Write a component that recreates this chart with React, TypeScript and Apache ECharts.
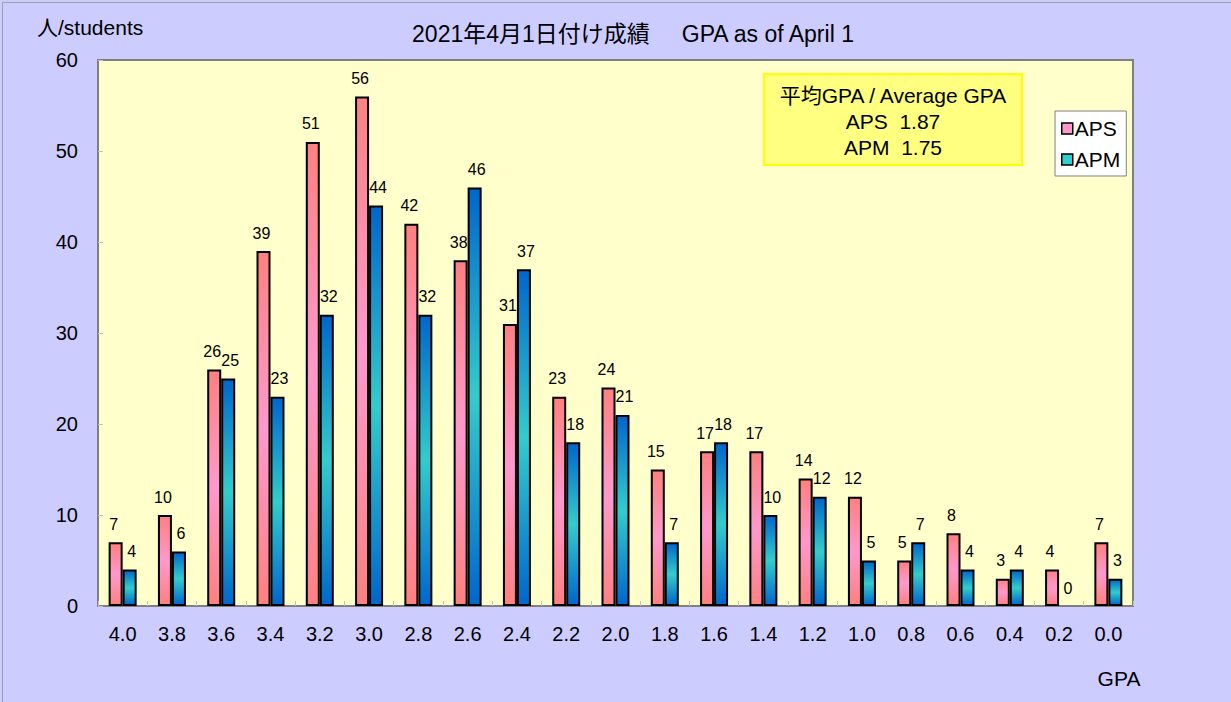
import React, { useEffect, useRef } from "react";
import * as echarts from "echarts";

const categories = ["4.0", "3.8", "3.6", "3.4", "3.2", "3.0", "2.8", "2.6", "2.4", "2.2", "2.0", "1.8", "1.6", "1.4", "1.2", "1.0", "0.8", "0.6", "0.4", "0.2", "0.0"];
const apsValues = [7, 10, 26, 39, 51, 56, 42, 38, 31, 23, 24, 15, 17, 17, 14, 12, 5, 8, 3, 4, 7];
const apmValues = [4, 6, 25, 23, 32, 44, 32, 46, 37, 18, 21, 7, 18, 10, 12, 5, 7, 4, 4, 0, 3];
const yTicks = { min: 0, max: 60, interval: 10 };
const titleText = "2021年4月1日付け成績     GPA as of April 1";
const averageLines = ["平均GPA / Average GPA", "APS  1.87", "APM  1.75"];

const FONT = "Arial, 'Liberation Sans', 'Noto Sans CJK JP', sans-serif";

const grad = (edge: string, mid: string) =>
  new echarts.graphic.LinearGradient(0, 0, 0, 1, [
    { offset: 0, color: edge },
    { offset: 0.5, color: mid },
    { offset: 1, color: edge },
  ]);

const toData = (vals: number[]) =>
  vals.map((v) => (v === 0 ? { value: v, itemStyle: { borderWidth: 0 } } : v));

export default function App() {
  const ref = useRef<HTMLDivElement>(null);
  useEffect(() => {
    document.body.style.margin = "0";
    if (!ref.current) return;
    const chart = echarts.init(ref.current, undefined, { renderer: "svg" });
    const labelCfg = (dx: number) => ({
      show: true,
      position: "top" as const,
      distance: 10,
      offset: [dx, 0],
      color: "#000",
      fontSize: 16,
      fontFamily: FONT,
    });
    chart.setOption({
      animation: false,
      backgroundColor: "#CCCCFF",
      textStyle: { fontFamily: FONT },
      grid: {
        left: 98,
        right: 98,
        top: 60,
        bottom: 96,
        show: true,
        backgroundColor: "#FFFFCC",
        borderColor: "#808080",
        borderWidth: 2,
      },
      legend: {
        orient: "vertical",
        left: 1055,
        top: 111,
        backgroundColor: "#FFFFFF",
        borderColor: "#808080",
        borderWidth: 1,
        padding: [7, 6, 6, 6],
        itemGap: 10,
        itemWidth: 11,
        itemHeight: 11,
        icon: "rect",
        textStyle: { fontSize: 21, color: "#000", fontFamily: FONT, padding: [0, 0, 0, -3] },
        data: [
          { name: "APS", itemStyle: { color: "#FF99CC", borderColor: "#000", borderWidth: 1.5 } },
          { name: "APM", itemStyle: { color: "#33CCCC", borderColor: "#000", borderWidth: 1.5 } },
        ],
      },
      xAxis: {
        type: "category",
        data: categories,
        axisLine: { show: true, lineStyle: { color: "#808080", width: 2 } },
        axisTick: { show: true, inside: true, length: 5, lineStyle: { color: "#C0C0C0" } },
        axisLabel: { fontSize: 20, color: "#000", margin: 18, fontFamily: FONT },
      },
      yAxis: {
        type: "value",
        min: yTicks.min,
        max: yTicks.max,
        interval: yTicks.interval,
        splitLine: { show: false },
        axisLine: { show: true, lineStyle: { color: "#808080", width: 2 } },
        axisTick: { show: true, inside: true, length: 5, lineStyle: { color: "#C0C0C0" } },
        axisLabel: { fontSize: 20, color: "#000", margin: 20, fontFamily: FONT },
      },
      graphic: [
        {
          type: "rect",
          left: 0,
          top: 0,
          shape: { width: 1230, height: 701 },
          style: { fill: "none", stroke: "#A0A0A0", lineWidth: 1 },
          silent: true,
        },
        {
          type: "text",
          x: 633,
          y: 34,
          style: { text: titleText, fontSize: 23, fill: "#000", align: "center", verticalAlign: "middle", fontFamily: FONT },
        },
        {
          type: "text",
          x: 37,
          y: 27,
          style: { text: "人/students", fontSize: 21, fill: "#000", align: "left", verticalAlign: "middle", fontFamily: FONT },
        },
        {
          type: "text",
          x: 1119,
          y: 678,
          style: { text: "GPA", fontSize: 21, fill: "#000", align: "center", verticalAlign: "middle", fontFamily: FONT },
        },
        {
          type: "rect",
          shape: { x: 764, y: 74, width: 258, height: 91 },
          style: { fill: "#FFFF80", stroke: "#FFFF00", lineWidth: 2 },
        },
        ...averageLines.map((t, i) => ({
          type: "text",
          x: 893,
          y: 95 + i * 26,
          style: { text: t, fontSize: 21, fill: "#000", align: "center", verticalAlign: "middle", fontFamily: FONT },
        })),
      ],
      series: [
        {
          name: "APS",
          type: "bar",
          data: toData(apsValues),
          barWidth: 14,
          barGap: "0%",
          itemStyle: { color: grad("#FF8080", "#FF99CC"), borderColor: "#000", borderWidth: 2 },
          label: labelCfg(-2),
        },
        {
          name: "APM",
          type: "bar",
          data: toData(apmValues),
          barWidth: 14,
          barGap: "0%",
          itemStyle: { color: grad("#0066CC", "#33CCCC"), borderColor: "#000", borderWidth: 2 },
          label: labelCfg(2),
        },
      ],
    });
    return () => chart.dispose();
  }, []);
  return <div ref={ref} style={{ width: 1231, height: 702 }} />;
}
